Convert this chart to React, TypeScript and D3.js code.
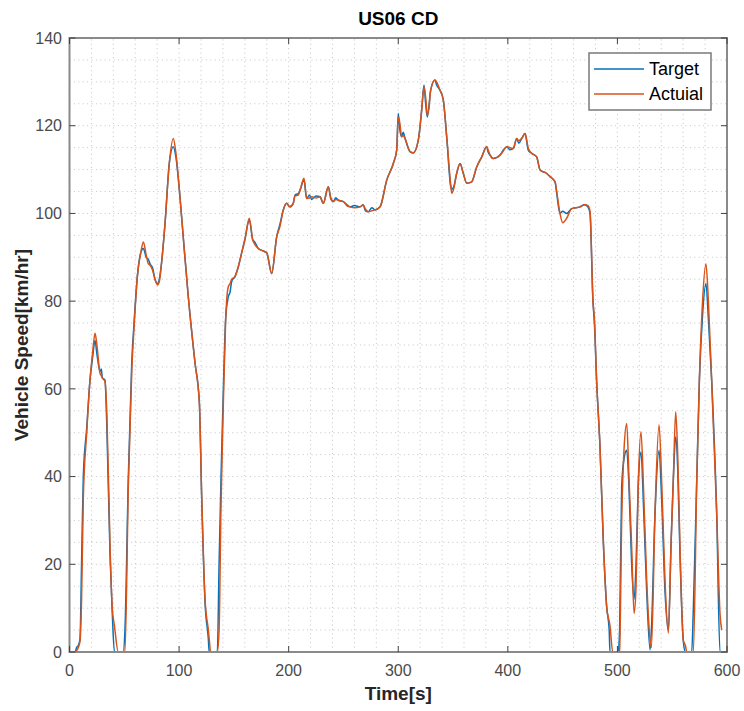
import React from 'react';
import * as d3 from 'd3';

const timeS = [0,5,6.5,8,9.6,11,12.6,15.7,18.7,21,23.3,25,27.8,29,30,32.4,34,37,39,41,44.5,49,50.6,53.7,56.8,58.9,61.9,65,67.4,70,72,73.5,75.9,78,80.5,82,84,87.2,91.1,94.7,97,100.8,104,108.4,114.5,118.5,120.6,123.7,126.7,127.5,128.8,134.9,136.5,138.3,140.4,142.5,144.9,146.5,148,151,154,157.1,160,164.1,167.2,169,172.3,176,180,184.5,189.1,192,195.1,198.2,201,204.2,205.8,208.8,210.4,214,216.4,219,221,225,228.6,231.6,236.2,238.5,240.8,243,245.3,249.9,253,256,260,265.1,268.1,270,272.7,276,278.8,283.4,289.5,295.5,298.6,300,301.5,303.1,304.5,306.2,310.7,313.7,318.3,321.4,323.5,325,326.5,328,329.6,333.5,335,338.1,341.1,344.2,347.9,348.8,350.5,353.3,356.4,359.4,362.5,367,371.6,376.2,380.7,382,383.8,386.8,392.9,396,399,402,405,408.1,410,412.7,415.7,418.7,421.8,426.3,429.4,435.5,438.5,443.1,444.6,447.6,450.1,453.7,458.3,465.9,470,473,475,477.7,479,481,484.1,487.1,490.2,492.5,493.2,495.7,500.8,501.5,502,503.9,506,508.5,510.5,513,515.2,517,519,521.5,524,526.7,529.8,531,534.3,538,540.5,543.4,546.5,549,551,553.2,555,557.1,560.1,562,563.3,567.8,569.3,572.4,574.8,577.5,580.8,583,586,590.6,593.6,595.2];

const targetKmh = [0,0,1,1.5,3,20,40,51,62,67,71,68,64,64.5,62.5,62,52,22,9,0,0,0,5,40,66,75,85.6,91,92,90,89.5,88.5,87.5,85,84,85,88.7,97.8,111.5,115.2,113,103.8,94,81,66,57,35.4,11.2,3,0,0,0,20,40,60,76,81,82,84.5,85.6,87.8,91,94,98.5,94,93.5,92,91.5,91,86.3,94.7,97.5,100.8,102.3,101.5,102.3,104.2,104.5,105.3,107.6,103.4,104.2,103.2,104,103.8,102.3,106.1,103.5,102.7,103.6,103,102.7,102,101.5,101.8,101.5,102,100.6,100.4,101.3,100.8,101.5,107.6,111.4,114.5,122.8,119,117.5,118.5,117.1,114.1,113.8,116.7,123.6,129.3,125,122,124.5,128.1,130.4,129.3,128.1,125.9,117.5,106.1,105.5,106,109.1,111.4,109.1,106.9,107.2,110.6,112.9,115.2,114,113.3,112.5,113.3,114.5,115.2,114.5,114.8,117.1,116,117.1,118.2,114.4,113.7,112.9,109.9,109.1,108.4,107.2,104.6,100,100.5,100,101.1,101.5,102,101.5,100,80,75,62,46.8,25.5,10.3,5,0,0,0,2,5,37.7,44,46,38,20,12,20,38,45.6,32,14,0.5,5,31.6,46,34,14,5,25,39.2,49.1,42,22,2.7,0,0,0,10,39.2,62,76,84,76,62,31.6,0,0];

const actualKmh = [0,0,0.3,1,2.5,12,35,50,62,68,72.7,70,63.6,63,62.5,61.6,55,24,10,6,0,0,0,38,64,74,85.6,91,93.5,90.5,88.5,88.2,87,85,83.7,84.5,88.7,97.8,111.5,117.1,114,103.8,94,81,66,56.8,36,12,5,3,0,0,5,34,56.8,75.7,83.3,84,85,85.6,87.8,91,94,98.9,94,93,92,91.5,91,86.3,94.7,97,100.8,102.3,101.5,102.3,104,104.2,105.3,108,103.4,103.5,103.8,103.5,103.8,102.3,106.1,103.2,102.7,103.2,103,102.7,101.8,101.5,101.3,101.5,101.9,101,100.4,100.6,100.8,101.5,107.6,111.4,114.5,122,120.5,117.5,117.8,117.1,114.1,113.8,116.7,123.6,128.8,126.5,122.4,124,128.1,130.4,130,128.1,125.9,117.5,106.5,104.6,105.5,109.1,111.4,109.1,106.9,107.2,110.6,112.9,115.2,114.5,113.3,112.5,113.3,114.3,115.2,115,114.8,117.1,116.6,117.1,118.2,114.8,113.7,112.9,109.9,109.1,108.4,107.2,105,100,97.9,98.9,101.1,101.5,102,101.8,100.5,80,76,62,46.8,25.5,10.3,7,6,0,0,0,0.5,30,46,52.1,40,24,8.8,15,38,50.2,36,16.4,2.7,1,31.6,51.8,38,16.4,4.3,25,39.2,54.8,45,24,2.7,1.5,0,0,0,39.2,62,79,88.5,80,62,31.6,8.8,5];

const xTicks = [0, 100, 200, 300, 400, 500, 600];
const yTicks = [0, 20, 40, 60, 80, 100, 120, 140];
const xMinor = d3.range(0, 601, 20);
const yMinor = d3.range(0, 141, 5);
const seriesNames = ['Target', 'Actuial'];
const seriesColors = ['#0072BD', '#D95319'];

export default function App() {
  const W = 744, H = 711;
  const x = d3.scaleLinear().domain([0, 600]).range([69.5, 727]);
  const y = d3.scaleLinear().domain([0, 140]).range([652, 38]);
  const [x0, x1] = x.range();
  const [yb, yt] = y.range();
  const line = d3
    .line<number>()
    .x((_, i) => x(timeS[i]))
    .y((d) => y(d))
    .curve(d3.curveMonotoneX);
  const font = '"Liberation Sans", Arial, Helvetica, sans-serif';
  const tickLen = 6;
  const series = [targetKmh, actualKmh];

  return (
    <div style={{ position: 'absolute', left: 0, top: 0 }}>
      <svg width={W} height={H} style={{ display: 'block', background: '#fff' }} fontFamily={font}>
        <rect x={0} y={0} width={W} height={H} fill="#fff" />
        <g stroke="#c4c4c4" strokeWidth={1} strokeDasharray="1,3.4" fill="none">
          {xMinor.filter((v) => v > 0 && v < 600).map((v) => (
            <line key={'gx' + v} x1={x(v)} x2={x(v)} y1={yb} y2={yt} />
          ))}
          {yMinor.filter((v) => v > 0 && v < 140).map((v) => (
            <line key={'gy' + v} x1={x0} x2={x1} y1={y(v)} y2={y(v)} />
          ))}
        </g>
        <defs>
          <clipPath id="plotclip">
            <rect x={x0} y={yt} width={x1 - x0} height={yb - yt} />
          </clipPath>
        </defs>
        <g clipPath="url(#plotclip)" fill="none" strokeLinejoin="round">
          {series.map((s, i) => (
            <path key={i} d={line(s) || ''} stroke={seriesColors[i]} strokeWidth={1.5} />
          ))}
        </g>
        <rect x={x0} y={yt} width={x1 - x0} height={yb - yt} fill="none" stroke="#8a8a8a" strokeWidth={2} />
        <g stroke="#404040" strokeWidth={1}>
          {xTicks.map((v) => (
            <g key={'tx' + v}>
              <line x1={x(v)} x2={x(v)} y1={yb} y2={yb - tickLen} />
              <line x1={x(v)} x2={x(v)} y1={yt} y2={yt + tickLen} />
            </g>
          ))}
          {yTicks.map((v) => (
            <g key={'ty' + v}>
              <line x1={x0} x2={x0 + tickLen} y1={y(v)} y2={y(v)} />
              <line x1={x1} x2={x1 - tickLen} y1={y(v)} y2={y(v)} />
            </g>
          ))}
        </g>
        <g fill="#4a4a4a" fontSize={16}>
          {xTicks.map((v) => (
            <text key={'lx' + v} x={x(v)} y={676} textAnchor="middle">{v}</text>
          ))}
          {yTicks.map((v) => (
            <text key={'ly' + v} x={62} y={y(v)} dy="0.36em" textAnchor="end">{v}</text>
          ))}
        </g>
        <text x={(x0 + x1) / 2} y={25} textAnchor="middle" fontSize={19} fontWeight="bold" fill="#000">US06 CD</text>
        <text x={(x0 + x1) / 2} y={700} textAnchor="middle" fontSize={19} fontWeight="bold" fill="#262626">Time[s]</text>
        <text transform={`translate(28,${(yt + yb) / 2}) rotate(-90)`} textAnchor="middle" fontSize={19} fontWeight="bold" fill="#262626">Vehicle Speed[km/hr]</text>
        <g>
          <rect x={589} y={53} width={122} height={57} fill="#fff" stroke="#7a7a7a" strokeWidth={1.5} />
          {seriesNames.map((n, i) => (
            <g key={n}>
              <line x1={594} x2={644} y1={69 + i * 25} y2={69 + i * 25} stroke={seriesColors[i]} strokeWidth={1.5} />
              <text x={649} y={69 + i * 25} dy="0.36em" fontSize={18} fill="#000">{n}</text>
            </g>
          ))}
        </g>
      </svg>
    </div>
  );
}
